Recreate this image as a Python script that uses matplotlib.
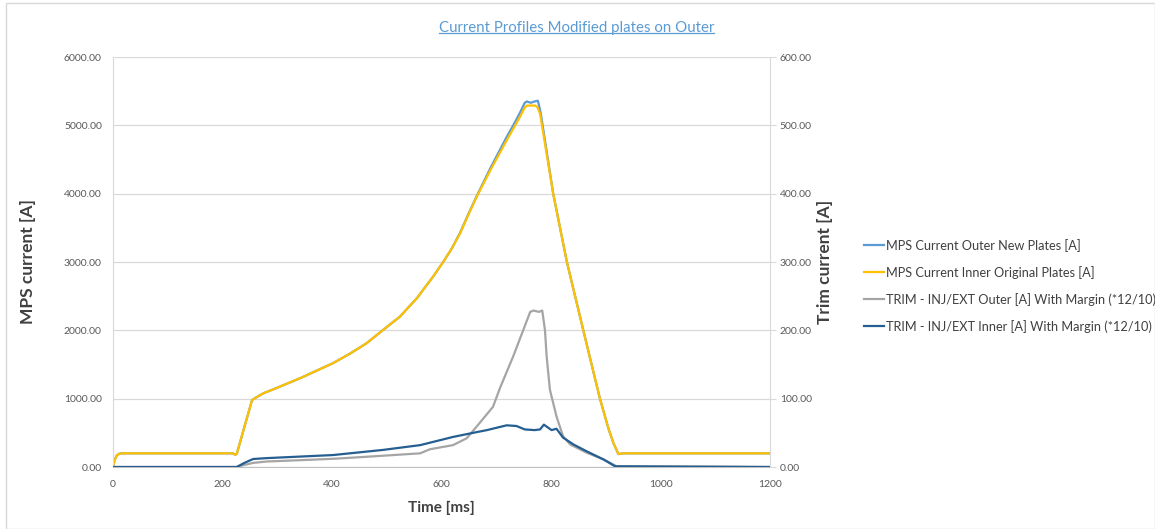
import matplotlib
matplotlib.use('Agg')
import matplotlib.pyplot as plt
from matplotlib.lines import Line2D
from matplotlib.patches import Rectangle

plt.rcParams['font.family'] = ['Lato', 'DejaVu Sans']

# Inner MPS current, original plates [A]
t_inner = [0, 3, 7, 12, 16, 219, 223, 226, 254, 262, 275, 300, 342, 372, 402, 433, 463, 494,
           524, 555, 585, 603, 619, 634, 649, 664, 689, 704, 719, 731, 743, 752, 756, 771,
           775, 780, 804, 829, 859, 889, 905, 914, 923, 932, 1200]
mps_inner = [0, 100, 170, 195, 200, 200, 180, 190, 980, 1020, 1080, 1160, 1300, 1410, 1520,
             1660, 1810, 2010, 2200, 2470, 2790, 3000, 3200, 3420, 3690, 3950, 4340, 4560,
             4780, 4950, 5120, 5260, 5290, 5290, 5270, 5170, 4000, 3000, 2000, 1010, 560,
             350, 190, 200, 200]

# Outer MPS current, new plates [A]
t_outer = [0, 3, 7, 12, 16, 219, 223, 226, 254, 262, 275, 300, 342, 372, 402, 433, 463, 494,
           524, 555, 585, 603, 619, 634, 649, 664, 689, 704, 719, 731, 743, 752, 756, 763,
           770, 776, 781, 804, 829, 859, 889, 905, 914, 923, 932, 1200]
mps_outer = [0, 100, 170, 195, 200, 200, 180, 190, 980, 1020, 1080, 1160, 1300, 1410, 1520,
             1660, 1810, 2010, 2200, 2470, 2790, 3000, 3200, 3430, 3700, 3960, 4370, 4600,
             4830, 5000, 5180, 5330, 5350, 5330, 5350, 5360, 5190, 4000, 3000, 2000, 1010,
             560, 350, 190, 200, 200]

# Trim currents (right axis) [A]
t_trim_out = [0, 225, 240, 256, 280, 342, 402, 464, 561, 570, 579, 621, 646, 664, 694, 707,
              731, 762, 768, 778, 784, 789, 792, 798, 810, 822, 835, 865, 896, 920, 1200]
trim_out = [0, 0, 3, 6, 8, 10, 12, 15, 20, 23, 26, 32, 42, 59, 88, 116, 162, 227, 229, 227,
            229, 200, 162, 113, 74, 45, 33, 21, 11, 1, 0]

t_trim_in = [0, 226, 240, 256, 281, 402, 493, 561, 621, 664, 683, 719, 737, 752, 770, 780,
             787, 794, 801, 810, 822, 841, 865, 896, 917, 1200]
trim_in = [0, 0, 6, 11.7, 13, 17.5, 25, 32, 44, 51, 54, 61, 60, 55, 54, 55, 62, 58, 54, 56,
           43, 33, 23, 11, 1, 0]

fig = plt.figure(figsize=(11.55, 5.29), dpi=100)
ax = fig.add_axes([0.0978, 0.1172, 0.5689, 0.775])
ax2 = ax.twinx()

ax.plot(t_outer, mps_outer, color='#5B9BD5', lw=1.6, label='MPS Current Outer New Plates [A]')
ax.plot(t_inner, mps_inner, color='#FFC000', lw=1.6, label='MPS Current Inner Original Plates [A]')
ax2.plot(t_trim_out, trim_out, color='#A5A5A5', lw=1.6,
         label='TRIM - INJ/EXT Outer [A] With Margin (*12/10)')
ax2.plot(t_trim_in, trim_in, color='#255E91', lw=1.6,
         label='TRIM - INJ/EXT Inner [A] With Margin (*12/10)')

ax.set_xlim(0, 1200)
ax.set_ylim(0, 6000)
ax2.set_ylim(0, 600)
ax.set_xticks(range(0, 1201, 200))
ax.set_yticks(range(0, 6001, 1000))
ax2.set_yticks(range(0, 601, 100))
ax.set_yticklabels([f'{v:.2f}' for v in range(0, 6001, 1000)])
ax2.set_yticklabels([f'{v:.2f}' for v in range(0, 601, 100)])

ax.grid(axis='y', color='#D9D9D9', lw=0.9)
ax.set_axisbelow(True)
for a in (ax, ax2):
    for s in a.spines.values():
        s.set_visible(False)
    a.tick_params(labelsize=7.5, labelcolor='#595959', length=0)
ax.spines['left'].set_visible(True)
ax.spines['left'].set_color('#D9D9D9')
ax2.spines['right'].set_visible(True)
ax2.spines['right'].set_color('#D9D9D9')
ax.spines['bottom'].set_visible(True)
ax.spines['bottom'].set_color('#BFBFBF')
ax2.tick_params(axis='y', length=4, color='#D9D9D9', pad=3)
ax.tick_params(axis='y', pad=8)
ax.tick_params(axis='x', pad=9)

ax.set_xlabel('Time [ms]', fontsize=11, fontweight='bold', color='#404040', labelpad=9)
ax.set_ylabel('MPS current [A]', fontsize=12.5, fontweight='bold', color='#404040', labelpad=20)
ax2.set_ylabel('Trim current [A]', fontsize=12.5, fontweight='bold', color='#404040', labelpad=4)

h1, l1 = ax.get_legend_handles_labels()
h2, l2 = ax2.get_legend_handles_labels()
fig.legend(h1 + h2, l1 + l2, loc='center left', bbox_to_anchor=(0.738, 0.46),
           frameon=False, fontsize=9.2, handlelength=1.6, handletextpad=0.15,
           labelspacing=1.1, labelcolor='#404040')

title = fig.text(0.499, 0.948, 'Current Profiles Modified plates on Outer',
                 ha='center', va='center', fontsize=10.8, color='#5B9BD5')

fig.patches.append(Rectangle((0.005, 0.0), 0.995, 0.994, transform=fig.transFigure,
                             fill=False, edgecolor='#D9D9D9', lw=1))

fig.canvas.draw()
bb = title.get_window_extent().transformed(fig.transFigure.inverted())
fig.add_artist(Line2D([bb.x0, bb.x1], [bb.y0 + 0.002, bb.y0 + 0.002],
                      transform=fig.transFigure, color='#5B9BD5', lw=0.9))

fig.savefig('out.png', dpi=100)
